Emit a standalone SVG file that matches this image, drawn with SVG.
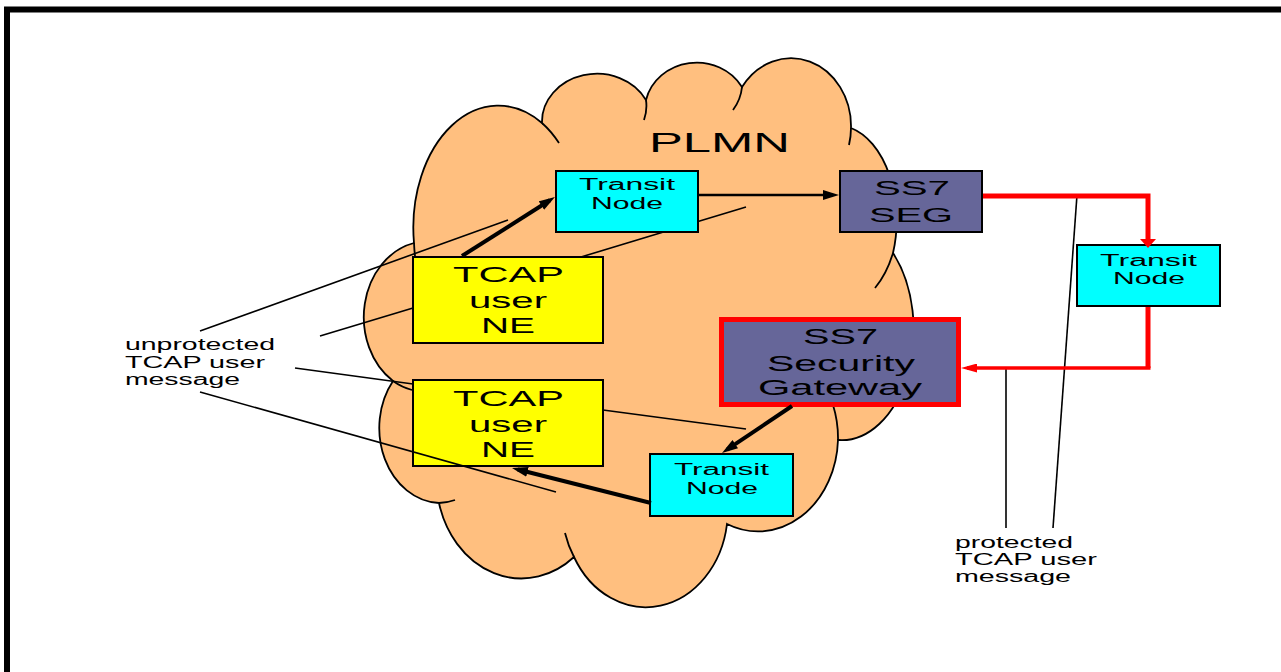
<svg xmlns="http://www.w3.org/2000/svg" width="1281" height="672" viewBox="0 0 1281 672">
<defs>
<style>
.cloud{fill:#FFBF7F;stroke:#000;stroke-width:1.8}
.stub{fill:none;stroke:#000;stroke-width:1.8}
.box{stroke:#000;stroke-width:2}
.tn{fill:#00FFFF}
.ne{fill:#FFFF00}
.seg{fill:#666699}
.t{font-family:"Liberation Sans",Arial,sans-serif;fill:#000}
.ptr{fill:none;stroke:#000;stroke-width:1.6}
.thick{fill:none;stroke:#000;stroke-width:4}
.red{fill:none;stroke:#FF0000}
</style>
<marker id="ab" markerUnits="userSpaceOnUse" markerWidth="16" markerHeight="10" refX="10" refY="5" orient="auto" viewBox="0 0 16 10">
<path d="M0,0 L16,5 L0,10 Z" fill="#000"/>
</marker>
<marker id="ab2" markerUnits="userSpaceOnUse" markerWidth="16" markerHeight="10" refX="10" refY="5" orient="auto" viewBox="0 0 16 10">
<path d="M0,0 L16,5 L0,10 Z" fill="#000"/>
</marker>
<marker id="arDown" markerUnits="userSpaceOnUse" markerWidth="9" markerHeight="16" refX="3" refY="8" orient="auto" viewBox="0 0 9 16">
<path d="M0,0 L9,8 L0,16 Z" fill="#FF0000"/>
</marker>
<marker id="arLeft" markerUnits="userSpaceOnUse" markerWidth="16" markerHeight="9" refX="10" refY="4.5" orient="auto" viewBox="0 0 16 9">
<path d="M0,0 L16,4.5 L0,9 Z" fill="#FF0000"/>
</marker>
</defs>
<rect width="1281" height="672" fill="#fff"/>
<rect x="7" y="9.5" width="1300" height="700" fill="none" stroke="#000" stroke-width="6"/>

<g id="plmn-cloud">
<path class="cloud" d="M414,243 A85,122 0 0 1 542,123 A55,48 0 0 1 646,100 A52,48 0 0 1 742,87 A60,68 0 0 1 851,128 A60,95 0 0 1 893,253 A72,110 0 0 1 838,440 A80,95 0 0 1 727,524 A82,97 0 0 1 574,557 A85,100 0 0 1 439,503 A62,75 0 0 1 393,381 A64,76 0 0 1 414,243 Z"/>
<path class="stub" d="M542,123 A85,122 0 0 1 559,143 M646,100 A55,48 0 0 1 644,120 M742,87 A52,48 0 0 1 733,110 M851,128 A60,68 0 0 1 849,145 M893,253 A60,95 0 0 1 875,288 M833,405 A80,95 0 0 1 838,440 M574,557 A82,97 0 0 1 565,533 M455,500 A62,75 0 0 1 439,503 M412,390 A64,76 0 0 1 393,381 M415,256 A85,122 0 0 1 414,243"/>
<text class="t" x="649" y="152" font-size="28" textLength="141" lengthAdjust="spacingAndGlyphs">PLMN</text>
</g>

<g id="transit-node-1">
<rect class="box tn" x="556" y="171" width="142" height="61"/>
<text class="t" x="579" y="190" font-size="16" textLength="96" lengthAdjust="spacingAndGlyphs">Transit</text>
<text class="t" x="591" y="209" font-size="16" textLength="72" lengthAdjust="spacingAndGlyphs">Node</text>
</g>

<g id="ss7-seg">
<rect class="box seg" x="840" y="171" width="142" height="61"/>
<text class="t" x="874" y="195" font-size="20" textLength="76" lengthAdjust="spacingAndGlyphs">SS7</text>
<text class="t" x="869" y="222" font-size="20" textLength="84" lengthAdjust="spacingAndGlyphs">SEG</text>
</g>

<g id="transit-node-right">
<rect class="box tn" x="1077" y="245" width="143" height="61"/>
<text class="t" x="1100" y="266" font-size="16" textLength="97" lengthAdjust="spacingAndGlyphs">Transit</text>
<text class="t" x="1113" y="284" font-size="16" textLength="72" lengthAdjust="spacingAndGlyphs">Node</text>
</g>

<g id="ss7-security-gateway">
<rect x="721.5" y="319.5" width="237" height="85" fill="#666699" stroke="#FF0000" stroke-width="5"/>
<text class="t" x="803" y="344" font-size="22" textLength="75" lengthAdjust="spacingAndGlyphs">SS7</text>
<text class="t" x="767" y="371" font-size="22" textLength="148" lengthAdjust="spacingAndGlyphs">Security</text>
<text class="t" x="758" y="395" font-size="22" textLength="164" lengthAdjust="spacingAndGlyphs">Gateway</text>
</g>

<g id="tcap-ne-1">
<rect class="box ne" x="413" y="257" width="190" height="86"/>
<text class="t" x="453" y="282" font-size="22" textLength="111" lengthAdjust="spacingAndGlyphs">TCAP</text>
<text class="t" x="469" y="308" font-size="22" textLength="78" lengthAdjust="spacingAndGlyphs">user</text>
<text class="t" x="481" y="333" font-size="22" textLength="54" lengthAdjust="spacingAndGlyphs">NE</text>
</g>

<g id="tcap-ne-2">
<rect class="box ne" x="413" y="380" width="190" height="86"/>
<text class="t" x="453" y="406" font-size="22" textLength="111" lengthAdjust="spacingAndGlyphs">TCAP</text>
<text class="t" x="469" y="432" font-size="22" textLength="78" lengthAdjust="spacingAndGlyphs">user</text>
<text class="t" x="481" y="457" font-size="22" textLength="54" lengthAdjust="spacingAndGlyphs">NE</text>
</g>

<g id="transit-node-2">
<rect class="box tn" x="650" y="454" width="143" height="62"/>
<text class="t" x="674" y="475" font-size="16" textLength="95" lengthAdjust="spacingAndGlyphs">Transit</text>
<text class="t" x="686" y="494" font-size="16" textLength="72" lengthAdjust="spacingAndGlyphs">Node</text>
</g>

<g id="label-unprotected">
<text class="t" x="125" y="350" font-size="16" textLength="150" lengthAdjust="spacingAndGlyphs">unprotected</text>
<text class="t" x="125" y="368" font-size="16" textLength="140" lengthAdjust="spacingAndGlyphs">TCAP user</text>
<text class="t" x="125" y="385" font-size="16" textLength="115" lengthAdjust="spacingAndGlyphs">message</text>
</g>

<g id="label-protected">
<text class="t" x="955" y="548" font-size="16" textLength="118" lengthAdjust="spacingAndGlyphs">protected</text>
<text class="t" x="955" y="565" font-size="16" textLength="142" lengthAdjust="spacingAndGlyphs">TCAP user</text>
<text class="t" x="955" y="582" font-size="16" textLength="116" lengthAdjust="spacingAndGlyphs">message</text>
</g>

<g id="connectors">
<path class="ptr" d="M200,331 L508,220"/>
<path class="ptr" d="M320,336 L413,308"/>
<path class="ptr" d="M295,368 L413,384"/>
<path class="ptr" d="M200,392 L556,492"/>
<path class="ptr" d="M581,257 L663.5,232"/>
<path class="ptr" d="M698,221.5 L746,207"/>
<path class="ptr" d="M603,410 L746,429"/>
<path class="ptr" d="M1077,195 L1053,528"/>
<path class="ptr" d="M1006,368 L1006,528"/>
<path class="thick" d="M462,256 L549.9,200.2" marker-end="url(#ab)"/>
<path fill="none" stroke="#000" stroke-width="2.6" d="M698,195 L833,195" marker-end="url(#ab2)"/>
<path class="thick" d="M792,406 L727,449.7" marker-end="url(#ab)"/>
<path class="thick" d="M651,503 L517.8,469.5" marker-end="url(#ab)"/>
<path class="red" stroke-width="5" d="M983,196 H1148 V242" marker-end="url(#arDown)"/>
<path class="red" stroke-width="5" d="M1148,307 V368"/>
<path class="red" stroke-width="3.5" d="M1150.5,368 H967" marker-end="url(#arLeft)"/>
</g>
</svg>
